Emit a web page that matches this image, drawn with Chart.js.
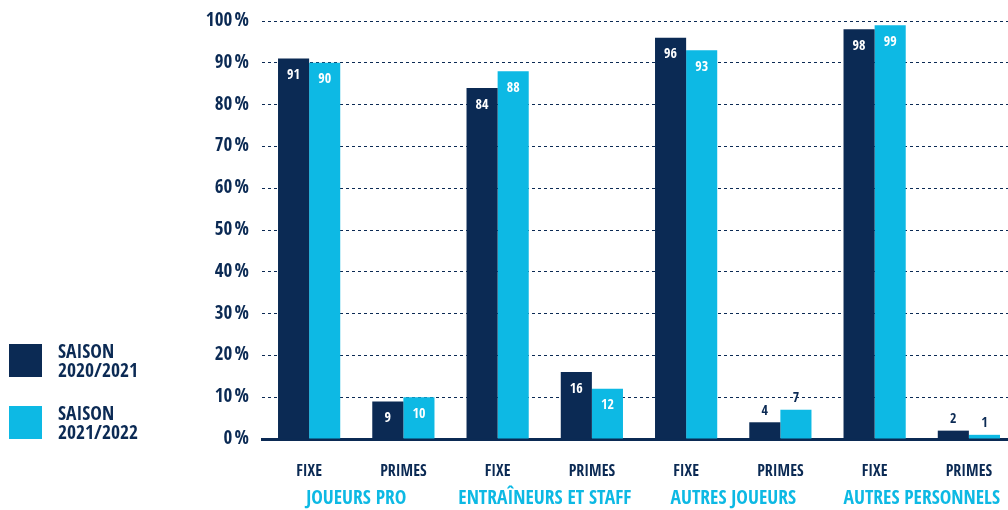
<!DOCTYPE html>
<html>
<head>
<meta charset="utf-8">
<script src="https://cdn.jsdelivr.net/npm/chart.js@4"></script>
<style>
  html, body { margin: 0; padding: 0; background: #fff; overflow: hidden; }
  #wrap { position: relative; width: 1018px; height: 510px; }
  #legende { position: absolute; left: 9px; top: 344px; font-family: "Open Sans Condensed", sans-serif; font-weight: bold; color: #0b2a54; }
  .item { position: relative; height: 62px; }
  .carre { position: absolute; left: 0; top: 0; width: 33px; height: 33px; }
  .texte { position: absolute; left: 49px; top: -3px; font-size: 19.5px; line-height: 19px; white-space: nowrap; }
</style>
</head>
<body>
<div id="wrap">
  <canvas id="graphique" width="1018" height="510"></canvas>
  <div id="legende"></div>
</div>
<script>
const categories = ["FIXE", "PRIMES", "FIXE", "PRIMES", "FIXE", "PRIMES", "FIXE", "PRIMES"];
const groupes = ["JOUEURS PRO", "ENTRAÎNEURS ET STAFF", "AUTRES JOUEURS", "AUTRES PERSONNELS"];
const saisons = [["SAISON", "2020/2021"], ["SAISON", "2021/2022"]];
const saison2021 = [91, 9, 84, 16, 96, 4, 98, 2];
const saison2022 = [90, 10, 88, 12, 93, 7, 99, 1];

const NAVY = "#0b2a54";
const CYAN = "#0db9e4";
const couleurs = [NAVY, CYAN];
const police = "'Open Sans Condensed', 'Roboto Condensed', sans-serif";

// légende à gauche
const legende = document.getElementById("legende");
saisons.forEach((s, i) => {
  const item = document.createElement("div");
  item.className = "item";
  item.innerHTML = `<div class="carre" style="background:${couleurs[i]}"></div><div class="texte">${s[0]}<br>${s[1]}</div>`;
  legende.appendChild(item);
});

// valeurs sur les barres
const etiquettes = {
  id: "etiquettes",
  afterDatasetsDraw(chart) {
    const ctx = chart.ctx;
    ctx.save();
    ctx.font = `bold 14px ${police}`;
    ctx.textAlign = "center";
    ctx.textBaseline = "middle";
    chart.data.datasets.forEach((ds, i) => {
      chart.getDatasetMeta(i).data.forEach((bar, j) => {
        const v = ds.data[j];
        if (v >= 9) {
          ctx.fillStyle = "#fff";
          ctx.fillText(v, bar.x, bar.y + 17);
        } else {
          ctx.fillStyle = NAVY;
          ctx.fillText(v, bar.x, bar.y - 11);
        }
      });
    });
    ctx.restore();
  }
};

// noms des groupes sous les catégories
const nomsGroupes = {
  id: "nomsGroupes",
  afterDraw(chart) {
    const ctx = chart.ctx;
    const x = chart.scales.x;
    ctx.save();
    ctx.font = `bold 19.5px ${police}`;
    ctx.fillStyle = CYAN;
    ctx.textAlign = "center";
    ctx.textBaseline = "middle";
    groupes.forEach((g, i) => {
      const cx = (x.getPixelForValue(2 * i) + x.getPixelForValue(2 * i + 1)) / 2;
      ctx.fillText(g, cx, 499);
    });
    ctx.restore();
  }
};

new Chart(document.getElementById("graphique").getContext("2d"), {
  type: "bar",
  data: {
    labels: categories,
    datasets: [
      { label: saisons[0].join(" "), data: saison2021, backgroundColor: NAVY },
      { label: saisons[1].join(" "), data: saison2022, backgroundColor: CYAN }
    ]
  },
  options: {
    responsive: false,
    animation: false,
    layout: { padding: { top: 21, right: 2, left: 0, bottom: 0 } },
    plugins: {
      legend: { display: false },
      tooltip: { enabled: false }
    },
    datasets: {
      bar: { barPercentage: 1, categoryPercentage: 0.66 }
    },
    scales: {
      x: {
        grid: { display: false },
        border: { display: true, color: NAVY, width: 3 },
        ticks: {
          color: NAVY,
          font: { family: police, weight: "bold", size: 16 },
          padding: 15,
          maxRotation: 0
        },
        afterFit(scale) { scale.height = 71; }
      },
      y: {
        min: 0,
        max: 100,
        grid: {
          drawTicks: false,
          color: ctx => ctx.tick && ctx.tick.value === 0 ? "rgba(0,0,0,0)" : NAVY,
          lineWidth: 1
        },
        border: { display: false, dash: [3, 3] },
        ticks: {
          stepSize: 10,
          color: NAVY,
          padding: 13,
          font: { family: police, weight: "bold", size: 19 },
          callback: v => v + "\u202F%"
        },
        afterFit(scale) {
          scale.width = 262;
          scale.paddingTop = 0;
        }
      }
    }
  },
  plugins: [etiquettes, nomsGroupes]
});
</script>
</body>
</html>
